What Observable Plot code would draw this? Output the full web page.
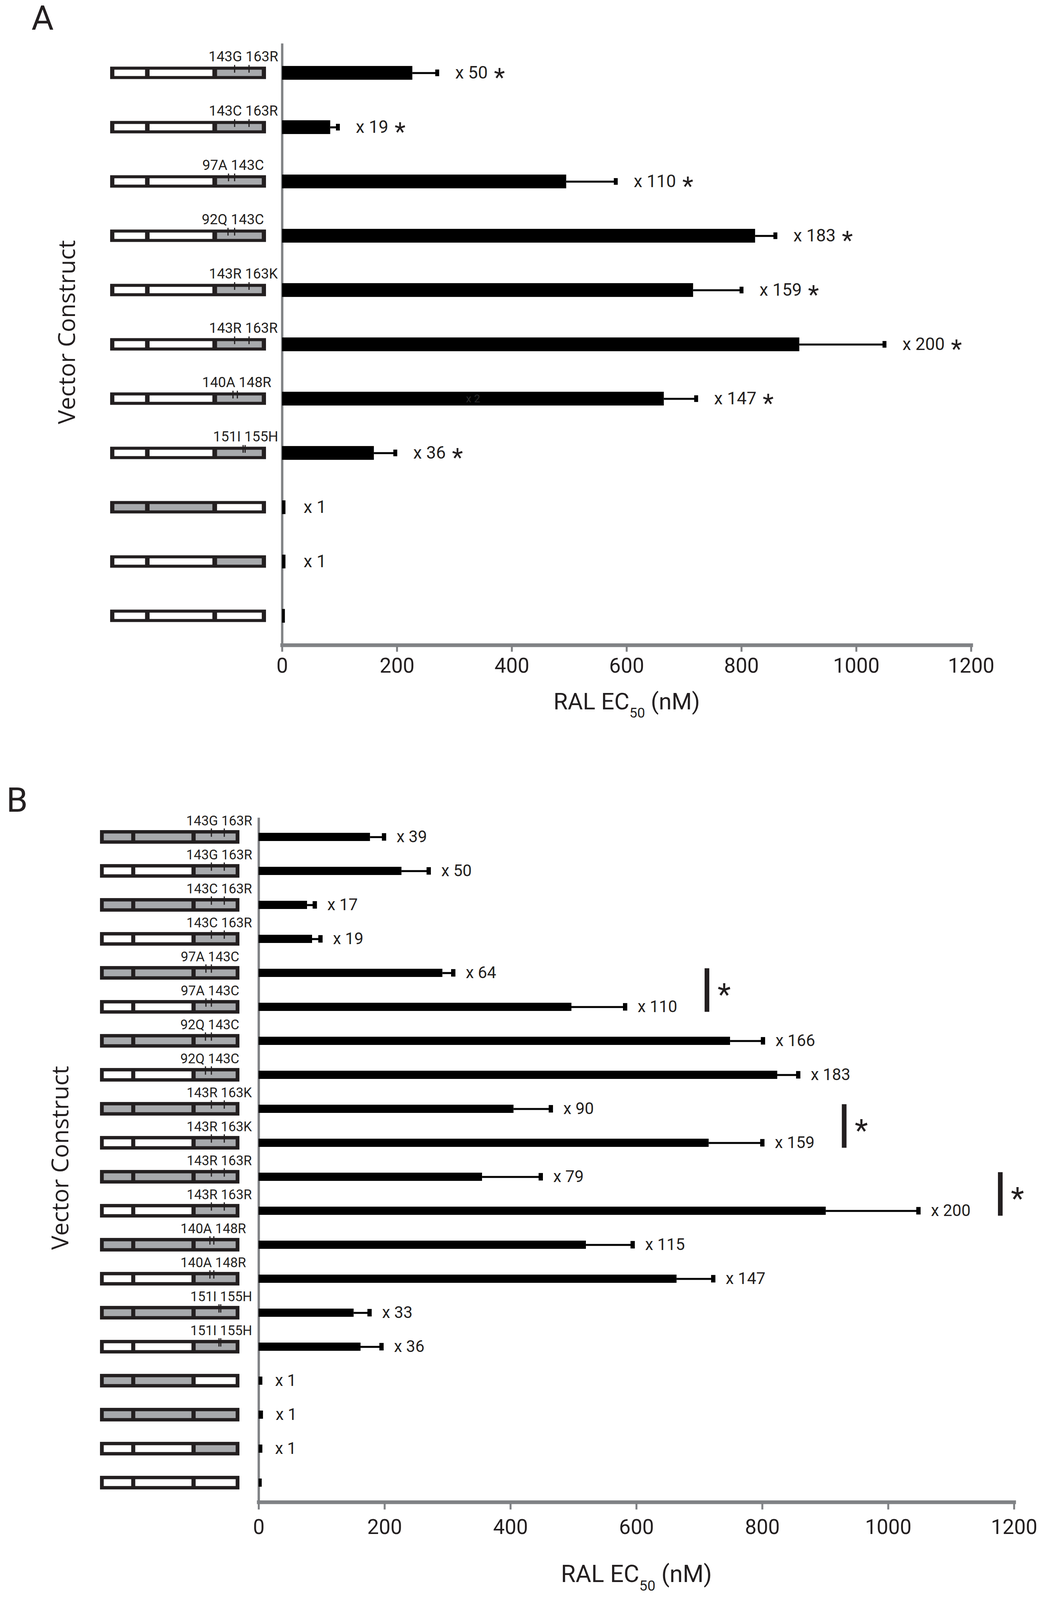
<!DOCTYPE html>
<html><head><meta charset="utf-8">
<script src="https://cdn.jsdelivr.net/npm/d3@7"></script>
<script src="https://cdn.jsdelivr.net/npm/@observablehq/plot@0.6"></script>
<style>
  html,body{margin:0;padding:0;background:#fff;overflow:hidden;}
  #chart{width:2696px;position:relative;}
  #chart svg{display:block;}
</style>
</head><body><div id="chart"></div>
<script>
// ---------------- DATA ----------------
const xTicks = [0, 200, 400, 600, 800, 1000, 1200];
const xTitle = "RAL EC50 (nM)";
const yTitle = "Vector Construct";

// Panel A
const aMutations = ["143G 163R","143C 163R","97A 143C","92Q 143C","143R 163K","143R 163R","140A 148R","151I 155H","","",""];
const aSegments  = ["WWG","WWG","WWG","WWG","WWG","WWG","WWG","WWG","GGW","WWG","WWW"];
const aEC50      = [227, 84, 495, 824, 716, 901, 665, 160, 6, 6, 5];
const aError     = [43, 13, 86, 35, 84, 148, 56, 37, 0, 0, 0];
const aFold      = ["x 50","x 19","x 110","x 183","x 159","x 200","x 147","x 36","x 1","x 1",""];
const aSignif    = [true,true,true,true,true,true,true,true,false,false,false];
const aInnerNote = ["","","","","","","x 2","","","",""];

// Panel B
const bMutations = ["143G 163R","143G 163R","143C 163R","143C 163R","97A 143C","97A 143C","92Q 143C","92Q 143C",
                    "143R 163K","143R 163K","143R 163R","143R 163R","140A 148R","140A 148R","151I 155H","151I 155H","","","",""];
const bSegments  = ["GGG","WWG","GGG","WWG","GGG","WWG","GGG","WWG","GGG","WWG","GGG","WWG","GGG","WWG","GGG","WWG","GGW","GGG","WWG","WWW"];
const bEC50      = [177, 227, 77, 85, 292, 497, 749, 824, 405, 715, 355, 901, 520, 664, 151, 162, 6, 7, 6, 5];
const bError     = [22, 43, 12, 13, 17, 85, 52, 33, 59, 85, 93, 147, 74, 58, 25, 33, 0, 0, 0, 0];
const bFold      = ["x 39","x 50","x 17","x 19","x 64","x 110","x 166","x 183","x 90","x 159","x 79","x 200","x 115","x 147","x 33","x 36","x 1","x 1","x 1",""];
const bSigPairs  = [[4,5],[8,9],[10,11]];

// ---------------- STYLE / LAYOUT ----------------
const W = 2696, H = 4748;
// the visible window can be shorter than the figure: compress the vertical layout to fit it
const SY = Math.min(1, (window.innerHeight || H) / H);
const FS = Math.sqrt(SY);
const INK = "#231f20", AXIS = "#808285", SEG_GRAY = "#a7a9ac";
const residueFrac = d3.scaleLinear().domain([92,140,148,151,163]).range([0.755,0.787,0.815,0.852,0.89]);
const segFrac = [[0.027,0.224],[0.253,0.656],[0.686,0.973]];

const VKEYS = ["height","mt","mb","boxH","innerH","barH","capH","whisker","mutDy","tickSize","tickPadding",
               "titleOffset","letterY","yTitleY","starDy","axisBand"];
function fit(L) {
  const o = {...L};
  for (const k of VKEYS) if (k in o) o[k] = o[k] * SY;
  return o;
}

const layoutA = fit({letter:"A", height:2180, mt:129, mb:266, ml:722, mr:210,
  box:[282,681], boxH:38, innerH:20, barH:42, whisker:6, capH:21, capW:10, axisBand:11,
  foldSize:48, foldGap:46, mutSize:39, mutDy:-48, tickSize:20, tickPadding:18, tickFont:57, titleSize:64,
  titleOffset:168, letterX:80, letterY:55, yTitleX:172, yTitleY:985, starSize:70, starDx:16, starDy:22});
const layoutB = fit({letter:"B", height:2568, mt:246, mb:291, ml:662, mr:100,
  box:[256,613], boxH:41, innerH:21, barH:25, whisker:6, capH:23, capW:11, axisBand:11,
  foldSize:45, foldGap:32, mutSize:37, mutDy:-47.5, tickSize:22, tickPadding:28, tickFont:57, titleSize:66,
  titleOffset:214, letterX:16, letterY:195, yTitleX:155, yTitleY:1255,
  bracketGap:130, bracketW:12, bracketStarSize:84});

function makePanel(P, L) {
  const n = P.ec.length;
  const rows = d3.range(n).map(i => ({
    id: P.tag + i, mut: P.mut[i], seg: P.seg[i], ec: P.ec[i], err: P.err[i],
    fold: P.fold[i], sig: P.sig ? P.sig[i] : false, note: P.note ? P.note[i] : ""
  }));
  const ids = rows.map(r => r.id);
  const band = (L.height - L.mt - L.mb) / n;
  const inset = h => (band - h) / 2;
  const xs = d3.scaleLinear([0, 1200], [L.ml, W - L.mr]);
  const bx = f => xs.invert(L.box[0] + f * (L.box[1] - L.box[0]));
  const resOf = m => parseInt(m, 10);

  const ticks = rows.flatMap(r => r.mut ? r.mut.split(" ").map(m => ({id: r.id, x: bx(residueFrac(resOf(m)))})) : []);
  const labels = rows.filter(r => r.mut).map(r => ({id: r.id, mut: r.mut,
    x: bx(d3.mean(r.mut.split(" "), m => residueFrac(resOf(m))) + 0.01)}));
  const segs = rows.flatMap(r => segFrac.map((f, k) => ({id: r.id, x1: bx(f[0]), x2: bx(f[1]), gray: r.seg[k] === "G"})));
  const withErr = rows.filter(r => r.err > 0);

  const marks = [
    Plot.ruleX([0], {stroke: AXIS, strokeWidth: 6}),
    Plot.frame({anchor: "bottom", stroke: AXIS, strokeWidth: L.axisBand}),
    Plot.axisX({ticks: xTicks, tickSize: L.tickSize, tickPadding: L.tickPadding, stroke: AXIS, strokeWidth: 5,
      fill: INK, fontSize: L.tickFont * FS, label: null, tickFormat: d => String(d)}),
    // construct schematics
    Plot.barX(rows, {y: "id", x1: bx(0), x2: bx(1), fill: INK, insetTop: inset(L.boxH), insetBottom: inset(L.boxH)}),
    Plot.barX(segs.filter(s => s.gray), {y: "id", x1: "x1", x2: "x2", fill: SEG_GRAY, insetTop: inset(L.innerH), insetBottom: inset(L.innerH)}),
    Plot.barX(segs.filter(s => !s.gray), {y: "id", x1: "x1", x2: "x2", fill: "#ffffff", insetTop: inset(L.innerH), insetBottom: inset(L.innerH)}),
    Plot.tickX(ticks, {x: "x", y: "id", stroke: INK, strokeWidth: 3, insetTop: band/2 - L.boxH/2 - 5 * SY, insetBottom: band/2}),
    Plot.text(labels, {x: "x", y: "id", text: "mut", dy: L.mutDy, fontSize: L.mutSize * FS, fill: INK}),
    // data bars, error bars, fold labels
    Plot.barX(rows, {y: "id", x1: 0, x2: "ec", fill: "#000", insetTop: inset(L.barH), insetBottom: inset(L.barH)}),
    Plot.ruleY(withErr, {y: "id", x1: "ec", x2: d => d.ec + d.err, stroke: "#000", strokeWidth: L.whisker}),
    Plot.tickX(withErr, {x: d => d.ec + d.err, y: "id", stroke: "#000", strokeWidth: L.capW, insetTop: inset(L.capH), insetBottom: inset(L.capH)}),
    Plot.text(rows.filter(r => r.fold), {x: d => d.ec + d.err, y: "id", text: d => d.fold + (d.sig ? " *" : ""),
      textAnchor: "start", dx: L.foldGap, fontSize: L.foldSize * FS, fill: INK}),
    Plot.text(rows.filter(r => r.note), {x: d => d.ec / 2, y: "id", text: "note", fontSize: 30 * FS, fill: "#2b2b2b"}),
    // panel letter, axis titles
    Plot.text([L.letter], {frameAnchor: "top-left", dx: L.letterX - L.ml, dy: L.letterY - L.mt, textAnchor: "start",
      lineAnchor: "middle", fontSize: 94 * FS, fill: INK}),
    Plot.text([yTitle], {frameAnchor: "top-left", dx: L.yTitleX - L.ml, dy: L.yTitleY - L.mt, rotate: -90,
      textAnchor: "middle", lineAnchor: "middle", fontSize: 70 * SY, fontFamily: "Open Sans", fill: INK}),
    Plot.text([xTitle], {frameAnchor: "bottom", dy: L.titleOffset, textAnchor: "middle", lineAnchor: "middle",
      fontSize: L.titleSize * FS, fill: INK})
  ];

  if (P.pairs) {
    const br = P.pairs.map(([a, b]) => ({a: ids[a], b: ids[b],
      x: d3.max([rows[a], rows[b]], r => r.ec + r.err) + L.bracketGap}));
    marks.push(
      Plot.ruleX(br, {x: "x", y1: "a", y2: "b", stroke: INK, strokeWidth: L.bracketW,
        insetTop: band/2 - 14 * SY, insetBottom: band/2 - 15 * SY}),
      Plot.text(br, {x: "x", y: "a", text: () => "*", dx: 44, dy: band/2 + 15 * SY,
        fontSize: L.bracketStarSize * FS, fill: INK})
    );
  }

  const svg = Plot.plot({
    width: W, height: L.height,
    marginTop: L.mt, marginBottom: L.mb, marginLeft: L.ml, marginRight: L.mr,
    x: {domain: [0, 1200]},
    y: {type: "band", domain: ids, padding: 0, axis: null},
    style: {background: "transparent", fontFamily: "Roboto", color: INK, overflow: "visible", maxWidth: "none"},
    marks
  });

  d3.select(svg).selectAll("text").each(function () {
    const t = d3.select(this);
    if (!t.select("tspan").empty()) return;
    const s = t.text();
    if (/^x \d+ \*$/.test(s)) {
      // larger significance star after the fold label
      t.text(s.slice(0, -2));
      t.append("tspan").attr("font-size", L.starSize * FS).attr("dx", L.starDx).attr("dy", L.starDy).text("*");
    } else if (s === xTitle) {
      // subscript "50" in the axis title
      const fs = L.titleSize * FS;
      t.text("");
      t.append("tspan").text("RAL EC");
      t.append("tspan").attr("font-size", fs * 0.6).attr("dy", fs * 0.36).text("50");
      t.append("tspan").attr("dy", -fs * 0.36).text(" (nM)");
    }
  });
  return svg;
}

const chart = document.getElementById("chart");
chart.append(makePanel({tag: "A", mut: aMutations, seg: aSegments, ec: aEC50, err: aError, fold: aFold, sig: aSignif, note: aInnerNote}, layoutA));
chart.append(makePanel({tag: "B", mut: bMutations, seg: bSegments, ec: bEC50, err: bError, fold: bFold, pairs: bSigPairs}, layoutB));
</script>
</body></html>
